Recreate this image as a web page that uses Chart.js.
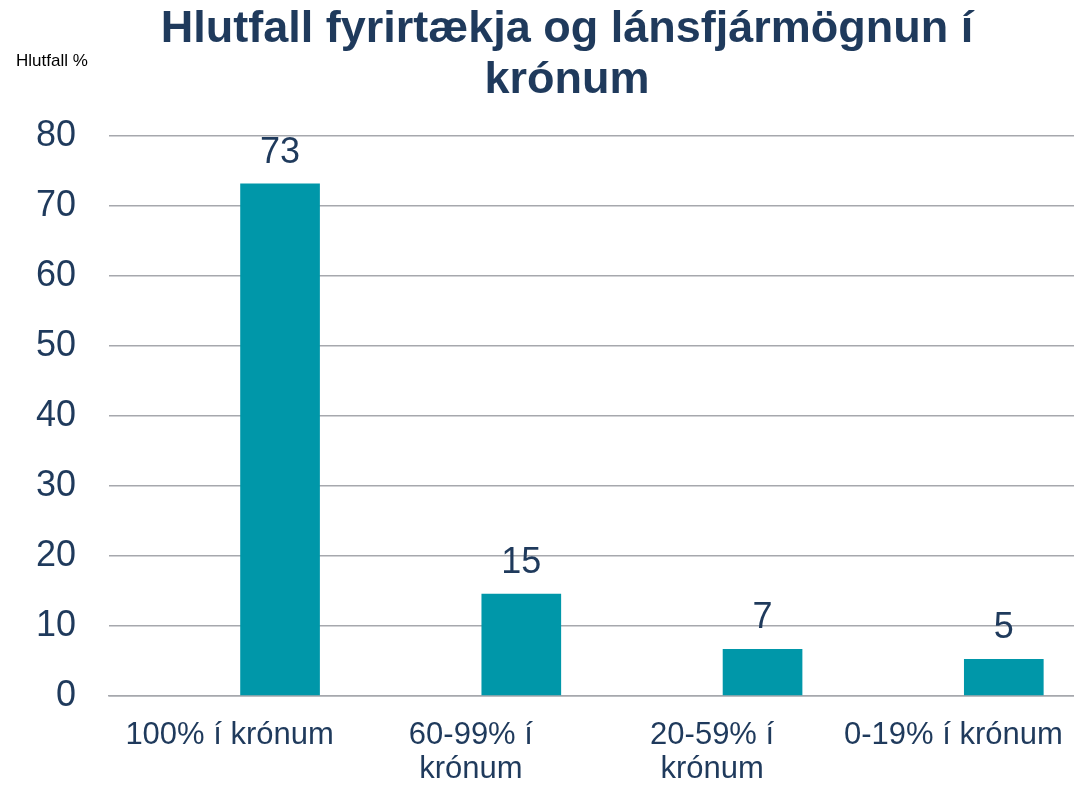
<!DOCTYPE html>
<html>
<head>
    <meta charset="utf-8">
    <title>Hlutfall fyrirtækja og lánsfjármögnun í krónum</title>
    <script src="https://cdn.jsdelivr.net/npm/chart.js"></script>
    <style>
        body { margin: 0; background: #fff; }
        #wrap { position: relative; width: 1074px; height: 786px; }
    </style>
</head>
<body>
    <div id="wrap">
        <canvas id="chart" width="1074" height="786"></canvas>
    </div>

    <script>
        const categories = ['100% í krónum', ['60-99% í', 'krónum'], ['20-59% í', 'krónum'], '0-19% í krónum'];
        const shares = [73.2, 14.6, 6.7, 5.3];
        const emptySeries = [null, null, null, null];
        const yTicks = [0, 10, 20, 30, 40, 50, 60, 70, 80];
        const titleLines = ['Hlutfall fyrirtækja og lánsfjármögnun í', 'krónum'];
        const yAxisLabel = 'Hlutfall %';

        const navy = '#1F3A5C';
        const teal = '#0097A9';
        const grid = '#A6A8AD';

        // title, axis caption and value labels
        const textPlugin = {
            id: 'texts',
            afterDatasetsDraw(chart) {
                const ctx = chart.ctx;
                ctx.save();
                ctx.fillStyle = navy;
                ctx.textAlign = 'center';
                ctx.textBaseline = 'alphabetic';
                ctx.font = 'bold 45px "Liberation Sans", Arial, sans-serif';
                ctx.fillText(titleLines[0], 567, 42);
                ctx.fillText(titleLines[1], 567, 93);

                ctx.fillStyle = '#000';
                ctx.textAlign = 'left';
                ctx.font = '17px "Liberation Sans", Arial, sans-serif';
                ctx.fillText(yAxisLabel, 16, 66);

                ctx.fillStyle = navy;
                ctx.textAlign = 'center';
                ctx.font = '36px "Liberation Sans", Arial, sans-serif';
                const meta = chart.getDatasetMeta(1);
                meta.data.forEach((bar, i) => {
                    ctx.fillText(String(Math.round(shares[i])), bar.x, bar.y - 21);
                });
                ctx.restore();
            }
        };

        const chart = new Chart(document.getElementById('chart').getContext('2d'), {
            type: 'bar',
            data: {
                labels: categories,
                datasets: [
                    { label: '', data: emptySeries, backgroundColor: 'transparent' },
                    { label: 'Hlutfall', data: shares, backgroundColor: teal,
                      categoryPercentage: 0.836, barPercentage: 0.79 }
                ]
            },
            options: {
                responsive: false,
                animation: false,
                layout: { padding: { top: 136, right: 0, left: 0, bottom: 0 } },
                plugins: {
                    legend: { display: false },
                    title: { display: false },
                    tooltip: { enabled: false }
                },
                scales: {
                    x: {
                        grid: { display: false, drawTicks: false },
                        border: { color: grid, width: 1.5 },
                        ticks: {
                            color: navy,
                            font: { family: '"Liberation Sans", Arial, sans-serif', size: 31, lineHeight: 1.1 },
                            padding: 22,
                            maxRotation: 0,
                            autoSkip: false
                        },
                        afterFit(scale) {
                            scale.height = 90;
                            scale.paddingLeft = 0;
                            scale.paddingRight = 0;
                        }
                    },
                    y: {
                        min: 0,
                        max: 80,
                        afterBuildTicks(scale) { scale.ticks = yTicks.map(v => ({ value: v })); },
                        grid: { color: grid, lineWidth: 1.5, drawTicks: false },
                        border: { display: false },
                        ticks: {
                            color: navy,
                            font: { family: '"Liberation Sans", Arial, sans-serif', size: 36 },
                            padding: 33
                        },
                        afterFit(scale) { scale.width = 109; }
                    }
                }
            },
            plugins: [textPlugin]
        });
    </script>
</body>
</html>
